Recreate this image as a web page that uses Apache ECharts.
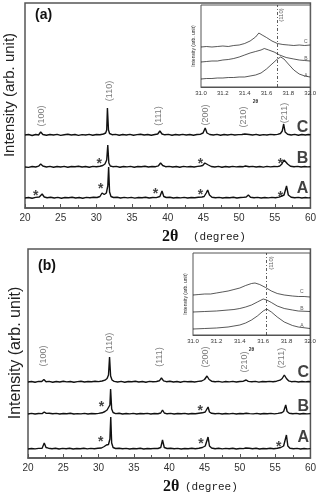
<!DOCTYPE html>
<html>
<head>
<meta charset="utf-8">
<script src="https://cdn.jsdelivr.net/npm/echarts@6/dist/echarts.min.js"></script>
<style>
  html, body { margin: 0; padding: 0; background: #fff; }
  #main { width: 319px; height: 494px; }
</style>
</head>
<body>
<div id="main"></div>
<script>
// 2theta ticks of the main panels and of the insets
var mainTicks = [20, 25, 30, 35, 40, 45, 50, 55, 60];
var insetTicks = [31.0, 31.2, 31.4, 31.6, 31.8, 32.0];
var sampleNames = ['A', 'B', 'C'];
var peakNames = ['(100)', '(110)', '(111)', '(200)', '(210)', '(211)'];

// panel (a) patterns, intensity above own baseline
var aC = [[20,0],[20.5,0.5],[21,-0.5],[21.5,0.5],[21.9,0],[22.2,3],[22.5,0.5],[23,-0.3],[23.5,0.5],[24,0],[24.5,0.6],[25,-0.4],[25.5,0.3],[26,0.8],[26.5,0],[27,0.5],[27.5,-0.4],[28,0.4],[28.5,0],[29,0.6],[29.5,-0.2],[30,0.5],[30.5,0.3],[31,1],[31.3,2],[31.45,5],[31.55,27],[31.7,5],[31.85,1.5],[32.2,0.3],[32.7,0.6],[33.2,-0.3],[33.7,0.5],[34.2,0],[34.7,0.6],[35.2,-0.2],[35.7,0.4],[36.2,0.8],[36.7,0],[37.2,0.5],[37.7,-0.3],[38.2,0.5],[38.6,1],[38.9,4],[39.2,1],[39.6,0.2],[40.1,0.6],[40.6,-0.3],[41.1,0.5],[41.6,0],[42.1,0.6],[42.6,0],[43.1,0.5],[43.6,-0.2],[44.1,0.5],[44.6,0.8],[44.95,2],[45.25,7],[45.5,2],[45.9,0.5],[46.4,0],[46.9,0.6],[47.4,-0.2],[47.9,0.5],[48.4,0],[48.9,0.6],[49.4,0],[49.9,0.4],[50.4,0.5],[50.8,1],[51.05,2.5],[51.4,0.5],[51.9,0],[52.4,0.6],[52.9,-0.2],[53.4,0.4],[53.9,0],[54.4,0.6],[54.9,0.2],[55.4,0.6],[55.8,1.5],[56.05,4],[56.25,11],[56.45,3],[56.8,0.8],[57.3,0],[57.8,0.6],[58.3,-0.2],[58.8,0.5],[59.3,0],[59.7,0.5],[60,0.2]];
var aB = [[20,0],[20.5,-0.4],[21,0.5],[21.5,0],[21.9,0.8],[22.2,3],[22.5,1],[23,0],[23.5,0.6],[24,-0.3],[24.5,0.5],[25,0],[25.5,0.6],[26,-0.2],[26.5,0.5],[27,0.2],[27.5,0.7],[28,0],[28.5,0.5],[29,-0.2],[29.5,0.6],[30,0.3],[30.5,0.8],[30.9,1.5],[31.2,3],[31.45,7],[31.6,22],[31.75,4],[31.95,1],[32.3,0.3],[32.8,0.6],[33.3,-0.2],[33.8,0.5],[34.3,0.1],[34.8,0.6],[35.3,-0.2],[35.8,0.5],[36.3,0.2],[36.8,0.7],[37.3,0],[37.8,0.5],[38.3,0.3],[38.7,1.2],[39,4],[39.3,1.5],[39.7,0.3],[40.2,0.6],[40.7,0],[41.2,0.5],[41.7,-0.2],[42.2,0.6],[42.7,0.1],[43.2,0.5],[43.7,0],[44.2,0.6],[44.6,1],[44.9,1.5],[45.2,4],[45.4,5],[45.7,2],[46.1,0.5],[46.6,0],[47.1,0.6],[47.6,-0.2],[48.1,0.5],[48.6,0],[49.1,0.6],[49.6,0.1],[50.1,0.5],[50.6,0.3],[50.9,1],[51.1,1.8],[51.4,0.3],[51.9,0.6],[52.4,0],[52.9,0.5],[53.4,-0.1],[53.9,0.6],[54.4,0.1],[54.9,0.5],[55.4,0.4],[55.7,1],[56,3],[56.3,7],[56.5,8],[56.8,3],[57.2,0.8],[57.7,0.2],[58.2,0.6],[58.7,0],[59.2,0.5],[59.6,0.1],[60,0.3]];
var aA = [[20,0],[20.5,0.5],[21,-0.2],[21.5,0.6],[22,1],[22.4,4],[22.7,1],[23.1,0.3],[23.6,0.8],[24.1,0],[24.6,0.6],[25.1,-0.2],[25.6,0.5],[26.1,0.2],[26.6,0.7],[27.1,0],[27.6,0.5],[28.1,-0.2],[28.6,0.6],[29.1,0.3],[29.6,0.8],[30.1,0.5],[30.5,1.5],[30.8,5],[31.1,3.5],[31.4,5],[31.6,12],[31.72,31],[31.85,6],[32.05,1.5],[32.4,0.5],[32.9,0.8],[33.4,0],[33.9,0.6],[34.4,0.1],[34.9,0.6],[35.4,-0.1],[35.9,0.5],[36.4,0.2],[36.9,0.7],[37.4,0],[37.9,0.5],[38.4,0.4],[38.9,1.5],[39.2,7],[39.45,1.5],[39.8,0.5],[40.3,0.8],[40.8,0],[41.3,0.5],[41.8,0.1],[42.3,0.6],[42.8,0],[43.3,0.5],[43.8,0.2],[44.3,0.7],[44.8,1],[45.1,1.5],[45.4,5],[45.6,8],[45.85,3],[46.2,0.8],[46.7,0.2],[47.2,0.6],[47.7,0],[48.2,0.5],[48.7,0.2],[49.2,0.7],[49.7,0],[50.2,0.5],[50.6,0.6],[51,1],[51.3,3],[51.6,0.8],[52.1,0.2],[52.6,0.6],[53.1,0],[53.6,0.5],[54.1,0.1],[54.6,0.6],[55.1,0.3],[55.6,0.9],[56,2],[56.3,3],[56.65,12],[56.9,3],[57.3,0.8],[57.8,0.2],[58.3,0.6],[58.8,0],[59.3,0.5],[59.7,0.1],[60,0.3]];

// panel (b) patterns
var bC = [[20,0],[20.5,0.5],[21,-0.3],[21.5,0.6],[21.95,0.5],[22.25,2.5],[22.55,0.3],[23,0.6],[23.5,-0.2],[24,0.5],[24.5,0],[25,0.7],[25.5,0.1],[26,0.5],[26.5,-0.3],[27,0.4],[27.5,0.8],[28,0],[28.5,0.5],[29,0.2],[29.5,0.7],[30,0.4],[30.5,1],[30.9,1.8],[31.2,3.5],[31.4,7],[31.55,25],[31.7,6],[31.9,2],[32.2,0.6],[32.7,0],[33.2,0.6],[33.7,-0.2],[34.2,0.5],[34.7,0.2],[35.2,0.7],[35.7,0],[36.2,0.5],[36.7,-0.2],[37.2,0.6],[37.7,0.2],[38.2,0.5],[38.6,1.2],[38.9,4],[39.2,1.2],[39.6,0.3],[40.1,0.7],[40.6,0],[41.1,0.5],[41.6,-0.2],[42.1,0.6],[42.6,0.2],[43.1,0.5],[43.6,0],[44.1,0.6],[44.6,1],[45,2.5],[45.35,6],[45.65,2.5],[46,0.8],[46.5,0.2],[47,0.6],[47.5,-0.1],[48,0.5],[48.5,0.1],[49,0.6],[49.5,0],[50,0.5],[50.5,0.8],[50.9,2],[51.2,0.6],[51.7,0.2],[52.2,0.6],[52.7,-0.1],[53.2,0.5],[53.7,0.2],[54.2,0.6],[54.7,0.3],[55.2,0.8],[55.7,1.8],[56,3.5],[56.3,7],[56.6,3.5],[56.9,1.2],[57.3,0.3],[57.8,0.6],[58.3,0],[58.8,0.5],[59.3,0.1],[59.7,0.5],[60,0.2]];
var bB = [[20,0],[20.5,0.6],[21,0],[21.5,0.5],[22,0.4],[22.3,2],[22.6,0.6],[23,0.8],[23.5,0.2],[24,0.6],[24.5,0],[25,0.5],[25.5,0.2],[26,0.7],[26.5,0],[27,0.4],[27.5,0.1],[28,0.6],[28.5,0],[29,0.5],[29.5,0.2],[30,0.6],[30.5,1.2],[30.9,2.5],[31.2,4],[31.45,6],[31.6,9],[31.7,25],[31.85,5],[32.05,1.5],[32.4,0.4],[32.9,0.7],[33.4,0],[33.9,0.5],[34.4,0.1],[34.9,0.6],[35.4,0],[35.9,0.5],[36.4,0.2],[36.9,0.6],[37.4,0],[37.9,0.5],[38.4,0.3],[38.8,1],[39.05,4],[39.3,1],[39.7,0.2],[40.2,0.6],[40.7,0],[41.2,0.5],[41.7,0.2],[42.2,0.6],[42.7,0],[43.2,0.5],[43.7,0.3],[44.2,0.8],[44.7,1.2],[45.1,2],[45.35,3],[45.5,7],[45.7,2],[46,0.7],[46.5,0.2],[47,0.6],[47.5,0],[48,0.5],[48.5,0.1],[49,0.6],[49.5,0],[50,0.5],[50.5,0.3],[50.9,0.8],[51.1,1.5],[51.4,0.4],[51.9,0.1],[52.4,0.6],[52.9,0],[53.4,0.5],[53.9,0.2],[54.4,0.6],[54.9,0.1],[55.4,0.6],[55.9,1.2],[56.2,2.5],[56.5,9],[56.7,2.5],[57,0.8],[57.5,0.2],[58,0.6],[58.5,0],[59,0.5],[59.5,0.1],[60,0.4]];
var bA = [[20,0],[20.5,0.5],[21,0.1],[21.5,0.6],[22,0.8],[22.3,6],[22.55,1.5],[22.9,0.8],[23.4,0.3],[23.9,0.7],[24.4,0],[24.9,0.6],[25.4,0.2],[25.9,0.7],[26.4,0],[26.9,0.5],[27.4,0.2],[27.9,0.7],[28.4,0.1],[28.9,0.6],[29.4,0.2],[29.9,0.7],[30.4,1],[30.8,2.5],[31.1,4],[31.4,4.5],[31.6,10],[31.72,32],[31.85,6],[32.05,1.5],[32.4,0.5],[32.9,0.8],[33.4,0.2],[33.9,0.6],[34.4,0],[34.9,0.5],[35.4,0.2],[35.9,0.7],[36.4,0],[36.9,0.5],[37.4,0.2],[37.9,0.6],[38.4,0.5],[38.8,1.5],[39.05,9],[39.3,1.5],[39.7,0.5],[40.2,0.8],[40.7,0.2],[41.2,0.6],[41.7,0],[42.2,0.5],[42.7,0.2],[43.2,0.7],[43.7,0.3],[44.2,0.8],[44.7,1.5],[45.1,3],[45.35,4],[45.5,12],[45.7,3],[46,1],[46.5,0.3],[47,0.7],[47.5,0.1],[48,0.6],[48.5,0.2],[49,0.7],[49.5,0],[50,0.5],[50.5,0.4],[50.85,1],[51.1,3],[51.35,0.8],[51.8,0.3],[52.3,0.7],[52.8,0],[53.3,0.5],[53.8,0.2],[54.3,0.7],[54.8,0.3],[55.3,0.8],[55.8,1.5],[56.2,3],[56.4,3],[56.6,14],[56.8,3],[57.1,0.8],[57.6,0.2],[58.1,0.6],[58.6,0],[59.1,0.5],[59.6,0.1],[60,0.4]];

// insets: (110) region
var iaC = [[31,40],[31.05,40.5],[31.1,40],[31.15,40.5],[31.2,41],[31.25,40.5],[31.3,41.5],[31.35,42],[31.4,43.5],[31.45,46],[31.5,50],[31.53,54],[31.56,52],[31.6,49.5],[31.65,46],[31.7,43.5],[31.75,42.5],[31.8,42],[31.85,41.5],[31.9,42],[31.95,41.5],[32,42]];
var iaB = [[31,25],[31.05,25.5],[31.1,26],[31.15,26],[31.2,27],[31.25,27.5],[31.3,28.5],[31.35,30],[31.4,32],[31.45,34],[31.5,35.5],[31.55,37],[31.58,38.5],[31.62,37],[31.67,35],[31.72,32],[31.78,29.5],[31.85,28],[31.9,27],[31.95,26.5],[32,26]];
var iaA = [[31,8],[31.05,8.5],[31.1,8.5],[31.15,9],[31.2,9],[31.25,9.5],[31.3,9.5],[31.35,10],[31.4,10],[31.45,11],[31.5,12],[31.55,14],[31.6,18],[31.65,23],[31.7,28],[31.73,30],[31.76,28],[31.8,23],[31.85,17],[31.9,13],[31.95,11],[32,10]];
var ibC = [[31,40],[31.05,40.5],[31.1,41],[31.15,41],[31.2,42],[31.25,43],[31.3,44],[31.35,45.5],[31.4,47],[31.45,49.5],[31.5,51.5],[31.53,52],[31.57,50.5],[31.62,47.5],[31.67,44],[31.72,41.5],[31.78,40],[31.85,39],[31.9,38.5],[31.95,38.5],[32,38]];
var ibB = [[31,23],[31.1,23.5],[31.2,24],[31.3,25],[31.35,25.5],[31.4,26.5],[31.45,28],[31.5,30],[31.55,33],[31.6,36],[31.63,35],[31.67,32.5],[31.72,29],[31.78,26.5],[31.85,25],[31.9,24],[32,23.5]];
var ibA = [[31,6],[31.1,6.5],[31.2,7],[31.3,8],[31.35,9],[31.4,10],[31.45,12],[31.5,15],[31.55,19],[31.6,24],[31.63,26],[31.67,23],[31.72,18],[31.78,13],[31.85,9.5],[31.9,8],[32,6.5]];

// vertical stacking of the patterns (A, B, C)
var offsA = [10, 41, 73];
var offsB = [9, 44, 76];

function shift(arr, off) {
  return arr.map(function (p) { return [p[0], p[1] + off]; });
}

function traceSeries(arr, off, idx, width) {
  return {
    type: 'line', xAxisIndex: idx, yAxisIndex: idx,
    data: shift(arr, off), showSymbol: false, symbol: 'none',
    lineStyle: { color: '#111', width: width }, silent: true
  };
}

// text markers placed on the axes (stars, peak labels, letters)
function textSeries(idx, pts, texts, label) {
  return {
    type: 'scatter', xAxisIndex: idx, yAxisIndex: idx, symbolSize: 1,
    itemStyle: { color: 'rgba(0,0,0,0)' }, silent: true, z: 5,
    data: pts.map(function (p, i) { return { value: p, name: texts[i] }; }),
    label: Object.assign({ show: true, position: 'inside', formatter: '{b}' }, label)
  };
}

var starStyle = { fontSize: 14, fontWeight: 'bold', color: '#111', fontFamily: 'Liberation Sans', offset: [0, 4] };
var peakStyle = { fontSize: 9, color: '#5a5a5a', rotate: 90, fontFamily: 'Liberation Sans' };
var letterStyle = { fontSize: 16, fontWeight: 'bold', color: '#111', fontFamily: 'Liberation Sans' };
var tinyStyle = { fontSize: 5, color: '#333', fontFamily: 'Liberation Sans' };

var myChart = echarts.init(document.getElementById('main'), null, { renderer: 'canvas' });

function mainX(idx) {
  return {
    type: 'value', gridIndex: idx, min: 20, max: 60, interval: 5,
    axisLine: { lineStyle: { color: '#555', width: 1.5 } },
    axisTick: { inside: true, length: 4, lineStyle: { color: '#555' } },
    minorTick: { show: true, splitNumber: 2, length: 3, lineStyle: { color: '#555' } },
    axisLabel: { fontSize: 10, color: '#333', margin: 5, fontFamily: 'Liberation Sans',
      customValues: mainTicks },
    splitLine: { show: false }
  };
}
function insetX(idx) {
  return {
    type: 'value', gridIndex: idx, min: 31, max: 32, interval: 0.2,
    axisLine: { lineStyle: { color: '#555', width: 1 } },
    axisTick: { inside: true, length: 2, lineStyle: { color: '#555' } },
    axisLabel: { fontSize: 6, color: '#333', margin: 3, fontFamily: 'Liberation Sans',
      formatter: function (v) { return v.toFixed(1); } },
    name: '2θ', nameLocation: 'middle', nameGap: 12,
    nameTextStyle: { fontSize: 5, fontWeight: 'bold', color: '#333' },
    splitLine: { show: false }
  };
}
function plainY(idx, max, name) {
  return {
    type: 'value', gridIndex: idx, min: 0, max: max,
    axisLine: { show: false }, axisTick: { show: false }, axisLabel: { show: false },
    splitLine: { show: false },
    name: name || '', nameLocation: 'middle', nameGap: 5,
    nameTextStyle: { fontSize: 5, color: '#333', fontFamily: 'Liberation Sans' }
  };
}

var option = {
  animation: false,
  backgroundColor: '#fff',
  grid: [
    { left: 25, top: 3, width: 288, height: 205, show: true, borderColor: '#555', borderWidth: 1.5 },
    { left: 28, top: 249, width: 284, height: 209, show: true, borderColor: '#555', borderWidth: 1.5 },
    { left: 201, top: 5, width: 110, height: 82, show: true, backgroundColor: '#fff', borderColor: '#555', borderWidth: 1, z: 3 },
    { left: 193, top: 253, width: 117, height: 82, show: true, backgroundColor: '#fff', borderColor: '#555', borderWidth: 1, z: 3 }
  ],
  xAxis: [mainX(0), mainX(1), insetX(2), insetX(3)],
  yAxis: [plainY(0, 205), plainY(1, 209),
    plainY(2, 82, 'Intensity (arb. unit)'), plainY(3, 82, 'Intensity (arb. unit)')],
  graphic: [
    { type: 'text', left: 35, top: 8, style: { text: '(a)', font: 'bold 14px "Liberation Sans"', fill: '#111' } },
    { type: 'text', left: 38, top: 259, style: { text: '(b)', font: 'bold 14px "Liberation Sans"', fill: '#111' } },
    { type: 'text', x: 10, y: 95, rotation: Math.PI / 2,
      style: { text: 'Intensity (arb. unit)', font: '15px "Liberation Sans"', fill: '#222', align: 'center', verticalAlign: 'middle' } },
    { type: 'text', x: 16, y: 353, rotation: Math.PI / 2,
      style: { text: 'Intensity (arb. unit)', font: '16px "Liberation Sans"', fill: '#222', align: 'center', verticalAlign: 'middle' } },
    { type: 'text', x: 162, y: 237, style: { text: '2θ', font: 'bold 16px "Liberation Serif"', fill: '#111', verticalAlign: 'middle' } },
    { type: 'text', x: 193, y: 237, style: { text: '(degree)', font: '11px "Liberation Mono"', fill: '#222', verticalAlign: 'middle' } },
    { type: 'text', x: 163, y: 487, style: { text: '2θ', font: 'bold 16px "Liberation Serif"', fill: '#111', verticalAlign: 'middle' } },
    { type: 'text', x: 185, y: 487, style: { text: '(degree)', font: '11px "Liberation Mono"', fill: '#222', verticalAlign: 'middle' } }
  ],
  series: [
    traceSeries(aA, offsA[0], 0, 1.4),
    traceSeries(aB, offsA[1], 0, 1.4),
    traceSeries(aC, offsA[2], 0, 1.4),
    traceSeries(bA, offsB[0], 1, 1.4),
    traceSeries(bB, offsB[1], 1, 1.4),
    traceSeries(bC, offsB[2], 1, 1.4),
    traceSeries(iaA, 0, 2, 0.7),
    traceSeries(iaB, 0, 2, 0.7),
    Object.assign(traceSeries(iaC, 0, 2, 0.7), {
      markLine: { silent: true, symbol: 'none', label: { show: false },
        lineStyle: { color: '#333', width: 0.8, type: [3, 2, 1, 2] }, data: [{ xAxis: 31.7 }] }
    }),
    traceSeries(ibA, 0, 3, 0.7),
    traceSeries(ibB, 0, 3, 0.7),
    Object.assign(traceSeries(ibC, 0, 3, 0.7), {
      markLine: { silent: true, symbol: 'none', label: { show: false },
        lineStyle: { color: '#333', width: 0.8, type: [3, 2, 1, 2] }, data: [{ xAxis: 31.63 }] }
    }),
    // peak indices
    textSeries(0, [[22.3, 92], [31.9, 117], [38.7, 92], [45.3, 93], [50.6, 91], [56.4, 95]], peakNames, peakStyle),
    textSeries(1, [[22.2, 102], [31.5, 115], [38.6, 101], [45.2, 101], [50.6, 96], [55.9, 100]], peakNames, peakStyle),
    // stars
    textSeries(0, [[30.4, 48], [44.6, 48], [55.8, 48], [21.5, 16], [30.6, 23], [38.3, 18], [44.6, 17], [55.8, 15]],
      ['*', '*', '*', '*', '*', '*', '*', '*'], starStyle),
    textSeries(1, [[30.4, 55], [44.4, 51], [30.3, 20], [44.5, 18], [55.5, 15]],
      ['*', '*', '*', '*', '*'], starStyle),
    // sample letters
    textSeries(0, [[58.9, 19], [58.9, 49], [58.9, 80]], sampleNames, letterStyle),
    textSeries(1, [[59, 20], [59, 51], [59, 85]], sampleNames, letterStyle),
    textSeries(2, [[31.96, 11], [31.96, 28], [31.96, 45]], sampleNames, tinyStyle),
    textSeries(3, [[31.93, 9], [31.93, 26], [31.93, 43]], sampleNames, tinyStyle),
    textSeries(2, [[31.74, 72]], ['(110)'], Object.assign({}, tinyStyle, { rotate: 90, fontSize: 6 })),
    textSeries(3, [[31.67, 72]], ['(110)'], Object.assign({}, tinyStyle, { rotate: 90, fontSize: 6 }))
  ]
};

myChart.setOption(option);
window.addEventListener('resize', function () {
  myChart.resize();
});
</script>
</body>
</html>
